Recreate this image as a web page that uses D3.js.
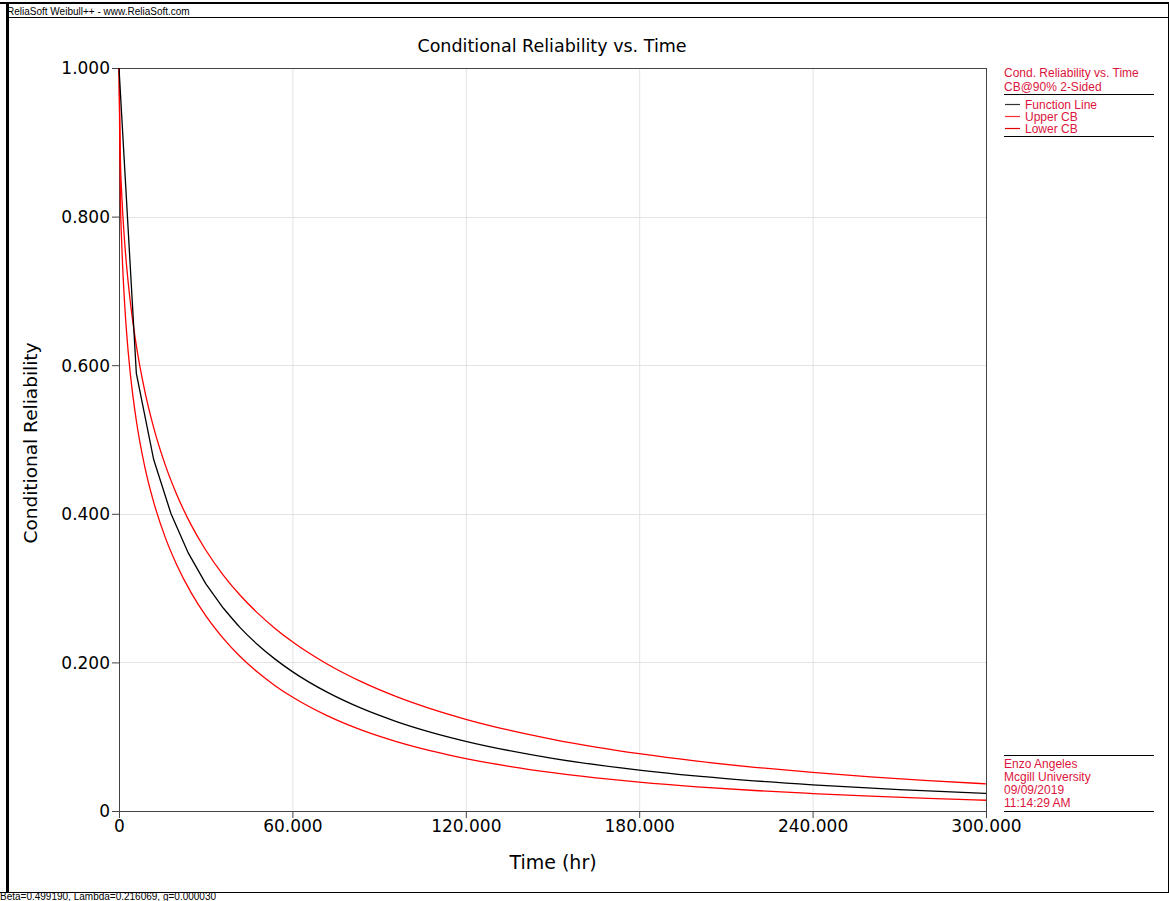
<!DOCTYPE html>
<html>
<head>
<meta charset="utf-8">
<script src="https://cdn.jsdelivr.net/npm/d3@7"></script>
<style>
  body { margin: 0; background: #fff; }
  svg { display: block; }
</style>
</head>
<body>
<div id="chart"></div>
<script>
// values
const funcTime = [0, 6, 12, 18, 24, 30, 36, 42, 48, 54, 60, 72, 84, 96, 108, 120, 150, 180, 210, 240, 270, 300];
const funcRel = [1, 0.589, 0.473, 0.400, 0.347, 0.306, 0.2735, 0.2465, 0.2238, 0.2044, 0.1876, 0.1599, 0.1380, 0.1204, 0.1059, 0.0938, 0.0709, 0.0551, 0.0437, 0.0352, 0.0287, 0.0237];

const cbTime = [0, 0.5, 1, 2, 3, 4, 6, 9, 12, 16, 20, 25, 30, 36, 42, 48, 54, 60, 72, 84, 96, 108, 120, 135, 150, 165, 180, 200, 220, 240, 260, 280, 300];
const upperRel = [1, 0.8737, 0.8261, 0.7633, 0.7184, 0.6825, 0.6263, 0.5638, 0.5160, 0.4658, 0.4256, 0.3848, 0.3513, 0.3179, 0.2900, 0.2663, 0.2457, 0.2277, 0.1978, 0.1737, 0.1539, 0.1374, 0.1234, 0.1087, 0.0964, 0.0860, 0.0771, 0.0671, 0.0588, 0.0519, 0.0460, 0.0409, 0.0366];
const lowerRel = [1, 0.8214, 0.7585, 0.6796, 0.6262, 0.5857, 0.5252, 0.4619, 0.4157, 0.3683, 0.3312, 0.2936, 0.2629, 0.2327, 0.2076, 0.1866, 0.1687, 0.1534, 0.1283, 0.1088, 0.0934, 0.0809, 0.0706, 0.0601, 0.0516, 0.0447, 0.0389, 0.0326, 0.0276, 0.0235, 0.0199, 0.0169, 0.0145];

const xTicks = [0, 60, 120, 180, 240, 300];
const xTickLabels = ["0", "60.000", "120.000", "180.000", "240.000", "300.000"];
const yTicks = [0, 0.2, 0.4, 0.6, 0.8, 1.0];
const yTickLabels = ["0", "0.200", "0.400", "0.600", "0.800", "1.000"];

const legendTitle = ["Cond. Reliability vs. Time", "CB@90% 2-Sided"];
const legendItems = [
  { name: "Function Line", color: "#333" },
  { name: "Upper CB", color: "#ff3030" },
  { name: "Lower CB", color: "#e00000" }
];
const userInfo = ["Enzo Angeles", "Mcgill University", "09/09/2019", "11:14:29 AM"];
const headerText = "ReliaSoft Weibull++ - www.ReliaSoft.com";
const footerText = "Beta=0.499190, Lambda=0.216069, g=0.000030";

const W = 1169, H = 901;
const margin = { top: 68, right: 183, bottom: 90, left: 119 };
const width = W - margin.left - margin.right,
      height = H - margin.top - margin.bottom;
const txtColor = "#dc143c";

const svg = d3.select("#chart").append("svg")
  .attr("width", W).attr("height", H);

// outer frame
svg.append("line").attr("x1", 0).attr("x2", W).attr("y1", 3).attr("y2", 3)
  .attr("stroke", "#000").attr("stroke-width", 2);
svg.append("line").attr("x1", 7.5).attr("x2", 7.5).attr("y1", 2).attr("y2", 893)
  .attr("stroke", "#000").attr("stroke-width", 3);
svg.append("line").attr("x1", 6).attr("x2", W).attr("y1", 17.5).attr("y2", 17.5)
  .attr("stroke", "#000").attr("stroke-width", 1);
svg.append("line").attr("x1", 0).attr("x2", W).attr("y1", 892.5).attr("y2", 892.5)
  .attr("stroke", "#000").attr("stroke-width", 1);
svg.append("line").attr("x1", 1168.5).attr("x2", 1168.5).attr("y1", 2).attr("y2", 893)
  .attr("stroke", "#000").attr("stroke-width", 1);

svg.append("text").attr("x", 7).attr("y", 15)
  .attr("font-family", "Liberation Sans, Arial, sans-serif").attr("font-size", 10)
  .text(headerText);
svg.append("text").attr("x", 0).attr("y", 900)
  .attr("font-family", "Liberation Sans, Arial, sans-serif").attr("font-size", 10)
  .text(footerText);

const g = svg.append("g").attr("transform", `translate(${margin.left},${margin.top})`);

const x = d3.scaleLinear().domain([0, 300]).range([0, width]);
const y = d3.scaleLinear().domain([0, 1]).range([height, 0]);

// grid
g.append("g").selectAll("line").data(xTicks.slice(1, -1)).join("line")
  .attr("x1", d => x(d) + 0.5).attr("x2", d => x(d) + 0.5)
  .attr("y1", 0).attr("y2", height)
  .attr("stroke", "#e3e3e3");
g.append("g").selectAll("line").data(yTicks.slice(1, -1)).join("line")
  .attr("y1", d => Math.round(y(d)) + 0.5).attr("y2", d => Math.round(y(d)) + 0.5)
  .attr("x1", 0).attr("x2", width)
  .attr("stroke", "#e3e3e3");

// frame of plot area
g.append("line").attr("x1", 0).attr("x2", width).attr("y1", 0.5).attr("y2", 0.5).attr("stroke", "#444");
g.append("line").attr("x1", width + 0.5).attr("x2", width + 0.5).attr("y1", 0).attr("y2", height).attr("stroke", "#444");

// axes
const xAxis = d3.axisBottom(x).tickValues(xTicks)
  .tickFormat((d, i) => xTickLabels[i]).tickSize(7).tickSizeOuter(0);
const yAxis = d3.axisLeft(y).tickValues(yTicks)
  .tickFormat((d, i) => yTickLabels[i]).tickSize(7).tickSizeOuter(0);

const gx = g.append("g").attr("transform", `translate(0,${height})`).call(xAxis);
const gy = g.append("g").call(yAxis);
[gx, gy].forEach(a => {
  a.selectAll("path, line").attr("stroke", "#444");
  a.selectAll("text").attr("font-family", "DejaVu Sans, Verdana, sans-serif")
    .attr("font-size", 17).attr("fill", "#000");
});
gx.selectAll("text").attr("dy", "0.95em").attr("y", 5);
gy.selectAll("text").attr("x", -9).attr("dy", "0.35em");

// curves
const smooth = d3.line().x(d => x(d[0])).y(d => y(d[1])).curve(d3.curveMonotoneX);
const straight = d3.line().x(d => x(d[0])).y(d => y(d[1]));
const pts = (t, v) => t.map((tt, i) => [tt, v[i]]);

[upperRel, lowerRel].forEach(v => {
  g.append("path")
    .datum(pts(cbTime, v))
    .attr("fill", "none").attr("stroke", "#ff0000").attr("stroke-width", 1.3)
    .attr("d", smooth);
});

// function line: straight segments near the origin, smooth after
const fp = pts(funcTime, funcRel);
const split = funcTime.indexOf(36);
g.append("path").datum(fp.slice(0, split + 1))
  .attr("fill", "none").attr("stroke", "#000").attr("stroke-width", 1.3)
  .attr("d", straight);
g.append("path").datum(fp.slice(split))
  .attr("fill", "none").attr("stroke", "#000").attr("stroke-width", 1.3)
  .attr("d", smooth);

// titles
svg.append("text").attr("x", 552).attr("y", 52).attr("text-anchor", "middle")
  .attr("font-family", "DejaVu Sans, Verdana, sans-serif").attr("font-size", 17.5)
  .text("Conditional Reliability vs. Time");
svg.append("text").attr("x", 553).attr("y", 869).attr("text-anchor", "middle")
  .attr("font-family", "DejaVu Sans, Verdana, sans-serif").attr("font-size", 19)
  .text("Time (hr)");
svg.append("text").attr("transform", "translate(37,443) rotate(-90)").attr("text-anchor", "middle")
  .attr("font-family", "DejaVu Sans, Verdana, sans-serif").attr("font-size", 18.5)
  .text("Conditional Reliability");

// legend
const lg = svg.append("g").attr("font-family", "Liberation Sans, Arial, sans-serif")
  .attr("font-size", 12).attr("fill", txtColor);
legendTitle.forEach((t, i) => {
  lg.append("text").attr("x", 1004).attr("y", 77 + i * 13.5).text(t);
});
lg.append("line").attr("x1", 1004).attr("x2", 1154).attr("y1", 94.5).attr("y2", 94.5).attr("stroke", "#000");
legendItems.forEach((d, i) => {
  const yy = 109 + i * 12;
  lg.append("line").attr("x1", 1005).attr("x2", 1020).attr("y1", yy - 4.5).attr("y2", yy - 4.5)
    .attr("stroke", d.color).attr("stroke-width", 1.2);
  lg.append("text").attr("x", 1025).attr("y", yy).text(d.name);
});
lg.append("line").attr("x1", 1004).attr("x2", 1154).attr("y1", 136.5).attr("y2", 136.5).attr("stroke", "#000");

// user info block
const ug = svg.append("g").attr("font-family", "Liberation Sans, Arial, sans-serif")
  .attr("font-size", 12).attr("fill", txtColor);
ug.append("line").attr("x1", 1004).attr("x2", 1154).attr("y1", 755.5).attr("y2", 755.5).attr("stroke", "#000");
userInfo.forEach((t, i) => {
  ug.append("text").attr("x", 1004).attr("y", 768 + i * 13).text(t);
});
ug.append("line").attr("x1", 1004).attr("x2", 1154).attr("y1", 811.5).attr("y2", 811.5).attr("stroke", "#000");
</script>
</body>
</html>
